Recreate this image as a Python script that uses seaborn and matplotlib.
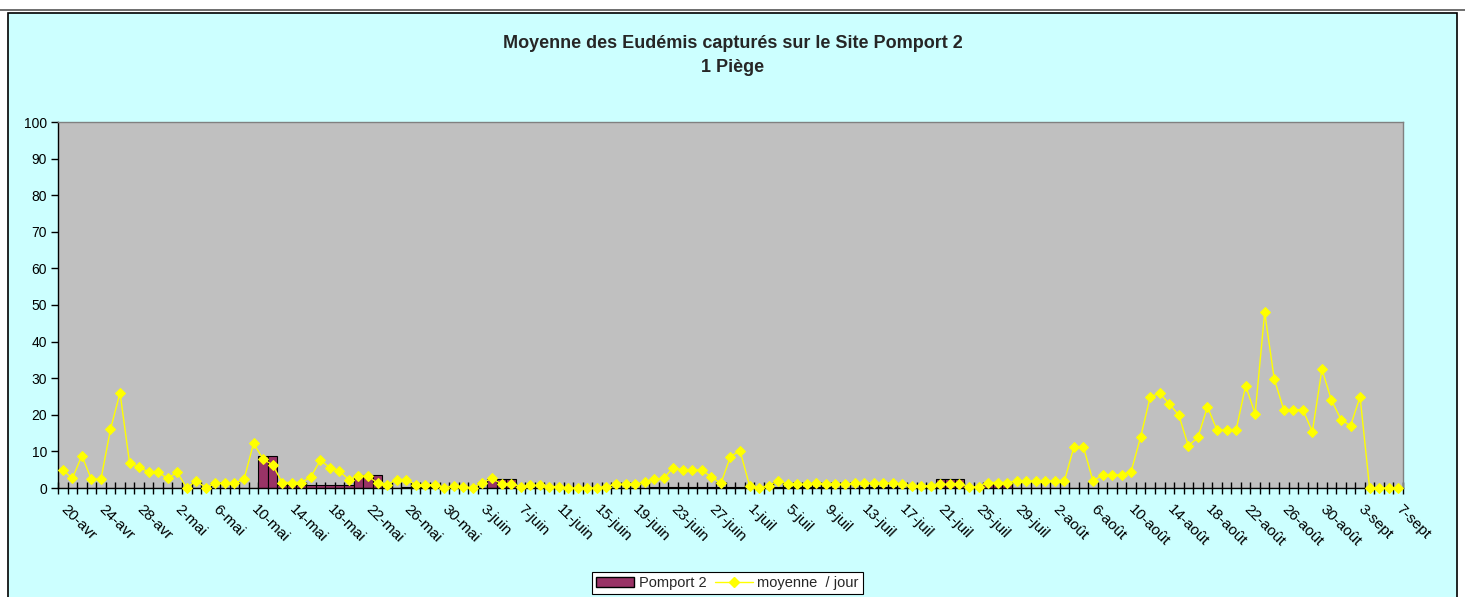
import matplotlib
matplotlib.use("Agg")
import matplotlib.pyplot as plt
import matplotlib.transforms as mtrans
from matplotlib.patches import Rectangle, Patch
from matplotlib.lines import Line2D
import seaborn as sns
import numpy as np
import pandas as pd

# Daily values, 20-avr .. 7-sept (141 days)
moyenne = [
    5.0, 2.6, 8.8, 2.4, 2.4, 16.0, 26.0, 6.9, 5.8, 4.3,
    4.3, 2.6, 4.3, 0, 2.0, 0, 1.3, 1.3, 1.3, 2.4,
    12.2, 7.9, 6.3, 1.5, 1.5, 1.5, 3.0, 7.6, 5.6, 4.6,
    2.3, 3.3, 3.3, 1.3, 0.9, 2.3, 2.3, 0.9, 0.9, 0.9,
    0, 0.6, 0.4, 0, 1.5, 2.6, 1.1, 1.1, 0.4, 0.7,
    0.7, 0.4, 0.4, 0, 0, 0, 0, 0.4, 1.0, 1.0,
    1.0, 1.7, 2.4, 2.6, 5.6, 4.9, 4.9, 4.9, 3.0, 1.3,
    8.6, 10.2, 0.6, 0, 0.6, 2.0, 1.0, 1.0, 1.0, 1.3,
    1.0, 1.0, 1.0, 1.3, 1.3, 1.3, 1.3, 1.3, 1.0, 0.6,
    0.6, 0.6, 1.0, 1.0, 1.0, 0.3, 0.3, 1.5, 1.5, 1.5,
    1.9, 1.9, 1.9, 1.9, 1.9, 1.9, 11.2, 11.2, 1.9, 3.6,
    3.6, 3.6, 4.5, 14.0, 24.9, 25.9, 23.0, 19.9, 11.5, 13.8,
    22.2, 15.8, 15.8, 15.8, 27.9, 20.3, 48.0, 29.8, 21.4, 21.4,
    21.4, 15.4, 32.4, 24.0, 18.7, 17.0, 24.9, 0, 0, 0,
    0,
]

pomport2 = [
    0, 0, 0, 0, 0, 0, 0, 0, 0, 0,
    0, 0, 0, 0, 0, 0, 0, 0, 0, 0,
    0, 8.8, 8.8, 0.7, 0.7, 0.7, 0.7, 0.7, 0.7, 0.7,
    0.7, 3.6, 3.6, 3.6, 0, 0, 0.3, 0.3, 0.3, 0.3,
    0, 0, 0, 0, 0, 2.4, 2.4, 2.4, 0, 0,
    0, 0, 0, 0, 0, 0, 0, 0, 0, 0,
    0, 0, 0.3, 0.3, 0.3, 0.3, 0.3, 0.3, 0.3, 0.3,
    0.3, 0.3, 0, 0, 0, 0.3, 0.3, 0.3, 0.3, 0.3,
    0.3, 0, 0, 0, 0.3, 0.3, 0.3, 0.3, 0, 0,
    0, 0, 2.4, 2.4, 2.4, 0, 0, 1.1, 1.1, 1.1,
    0, 0, 0, 0, 0, 0, 0, 0, 0, 0,
    0, 0, 0, 0, 0, 0, 0, 0, 0, 0,
    0, 0, 0, 0, 0, 0, 0, 0, 0, 0,
    0, 0, 0, 0, 0, 0, 0, 0, 0, 0,
    0,
]

tick_labels = [
    "20-avr", "24-avr", "28-avr", "2-mai", "6-mai", "10-mai", "14-mai",
    "18-mai", "22-mai", "26-mai", "30-mai", "3-juin", "7-juin", "11-juin",
    "15-juin", "19-juin", "23-juin", "27-juin", "1-juil", "5-juil", "9-juil",
    "13-juil", "17-juil", "21-juil", "25-juil", "29-juil", "2-août", "6-août",
    "10-août", "14-août", "18-août", "22-août", "26-août", "30-août",
    "3-sept", "7-sept",
]

df = pd.DataFrame({
    "jour": np.arange(len(moyenne)),
    "Pomport 2": pomport2,
    "moyenne": moyenne,
})

sns.set_theme(style="white")
plt.rcParams["font.family"] = ["Liberation Sans", "DejaVu Sans"]

W, H = 1465, 597
fig = plt.figure(figsize=(W / 100, H / 100), dpi=100)
fig.patch.set_facecolor("white")

# chart area frame (behind the axes)
fig.patches.append(Rectangle((8 / W, -0.02), (1457 - 8) / W, (H - 13) / H + 0.02,
                             transform=fig.transFigure, facecolor="#CCFFFF",
                             edgecolor="black", lw=1.2, zorder=-5))
fig.add_artist(Line2D([0, 1], [1 - 10 / H] * 2, color="#555555", lw=1.2, zorder=-5))

ax = fig.add_axes([58 / W, 1 - 488 / H, (1403 - 58) / W, (488 - 122) / H])
ax.set_zorder(1)
ax.set_facecolor("#C0C0C0")

sns.barplot(data=df, x="jour", y="Pomport 2", color="#993366", saturation=1,
            width=1, edgecolor="black", linewidth=0.8, ax=ax)
sns.lineplot(data=df, x="jour", y="moyenne", color="#FFFF00", lw=1.0,
             marker="D", markersize=5, markeredgecolor="#FFFF00",
             zorder=3, clip_on=False, ax=ax)

ax.set_xlim(-0.5, len(moyenne) - 0.5)
ax.set_ylim(0, 100)
ax.set_yticks(range(0, 101, 10))
ax.set_xlabel("")
ax.set_ylabel("")

for side in ["left", "bottom"]:
    ax.spines[side].set_color("black")
    ax.spines[side].set_linewidth(1.0)
for side in ["top", "right"]:
    ax.spines[side].set_color("#808080")
    ax.spines[side].set_linewidth(1.0)

ax.tick_params(axis="y", which="major", left=True, direction="out", length=5,
               width=1, color="black", labelsize=10, pad=3, labelcolor="black")

ax.set_xticks(np.arange(0, len(moyenne), 4))
ax.set_xticklabels(tick_labels, rotation=-45, ha="left", va="top",
                   rotation_mode="anchor", fontsize=11, color="black")
ax.set_xticks(np.arange(-0.5, len(moyenne), 1), minor=True)
ax.tick_params(axis="x", which="major", bottom=True, length=0, pad=10)
ax.tick_params(axis="x", which="minor", bottom=True, direction="inout",
               length=8, width=1, color="black")
shift = mtrans.ScaledTranslation(5 / 100, 0, fig.dpi_scale_trans)
for lab in ax.get_xticklabels():
    lab.set_transform(lab.get_transform() + shift)

fig.text(0.5, 1 - 43 / H, "Moyenne des Eudémis capturés sur le Site Pomport 2",
         ha="center", va="center", fontsize=13, fontweight="bold")
fig.text(0.5, 1 - 68 / H, "1 Piège", ha="center", va="center",
         fontsize=13, fontweight="bold")

handles = [
    Patch(facecolor="#993366", edgecolor="black", label="Pomport 2"),
    Line2D([], [], color="#FFFF00", lw=1.0, marker="D", markersize=5,
           label="moyenne  / jour"),
]
leg = fig.legend(handles=handles, loc="center", bbox_to_anchor=(727.5 / W, 14 / H),
                 ncol=2, frameon=True, fancybox=False, edgecolor="black",
                 facecolor="white", framealpha=1, fontsize=10.5, handlelength=2.6,
                 handletextpad=0.3, columnspacing=0.6, borderpad=0.3)
leg.get_frame().set_linewidth(0.8)

fig.savefig("out.png", dpi=100)
